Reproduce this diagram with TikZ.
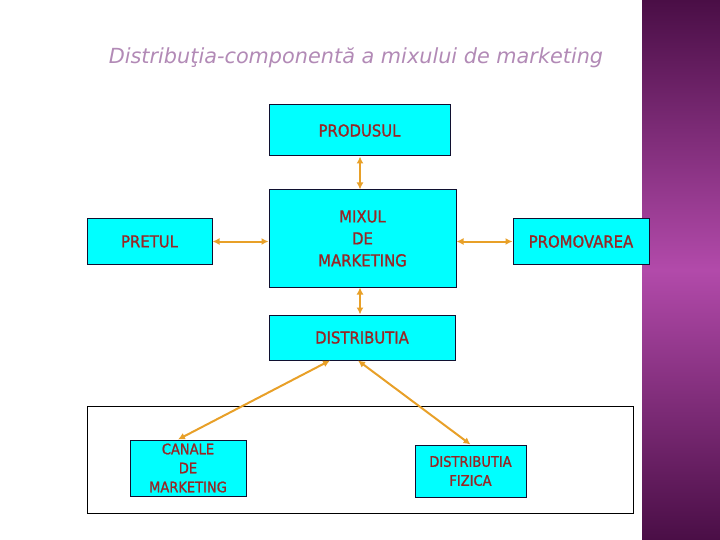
\documentclass[tikz,border=0pt]{standalone}
\usepackage{fontspec}
\setmainfont{DejaVu Sans}
\newfontfamily\boxfont[FakeStretch=0.9,FakeBold=1.2]{DejaVu Sans}
\usetikzlibrary{arrows.meta,positioning,calc}
\definecolor{MKCyan}{HTML}{00FFFF}
\definecolor{MKEdge}{HTML}{101030}
\definecolor{MKText}{HTML}{982626}
\definecolor{MKArrow}{HTML}{E8A028}
\definecolor{MKTitle}{HTML}{B28AB6}
\definecolor{MKBandDark}{HTML}{4A0E46}
\definecolor{MKBandLight}{HTML}{B24AAA}
\tikzset{
  link/.style={{Latex[length=7pt,width=7pt]}-{Latex[length=7pt,width=7pt]},MKArrow,line width=2pt},
  box/.style={draw=MKEdge,line width=1pt,fill=MKCyan,text=MKText,align=center,
              inner sep=0pt,font=\boxfont\fontsize{16.5}{22}\selectfont},
  smallbox/.style={box,font=\boxfont\fontsize{14.5}{19}\selectfont},
  frame/.style={draw=black,line width=1pt},
  title/.style={text=MKTitle,font=\fontsize{20.8}{24}\selectfont\itshape},
}

\begin{document}
\begin{tikzpicture}[x=1pt,y=-1pt]
    \useasboundingbox (0,0) rectangle (720,540);
    % side band
    \shade[top color=MKBandDark,bottom color=MKBandDark,middle color=MKBandLight]
      (642,0) rectangle (720,540);

    \node[title] (title) at (356,58) {Distribuţia-componentă a mixului de marketing};

    \node[box,minimum width=181pt,minimum height=51pt] (prod) at (359.5,130.5) {PRODUSUL};
    \node[box,minimum width=187pt,minimum height=97pt] (mix) at (362.5,238.5) {MIXUL\\DE\\MARKETING};
    \node[box,minimum width=125pt,minimum height=45pt] (pret) at (149.5,241.5) {PRETUL};
    \node[box,minimum width=136pt,minimum height=45pt] (promo) at (581,241.5) {PROMOVAREA};
    \node[box,minimum width=186pt,minimum height=45pt] (distr) at (362,337.5) {DISTRIBUTIA};

    \draw[frame] (87,406) rectangle (633,513);
    \node[smallbox,minimum width=116pt,minimum height=56pt] (canale) at (188,468) {CANALE\\DE\\MARKETING};
    \node[smallbox,minimum width=111pt,minimum height=52pt] (fizica) at (470.5,471) {DISTRIBUTIA\\FIZICA};

    \draw[link] ([xshift=0.5pt]prod.south) -- ([xshift=0.5pt]prod.south |- mix.north);
    \draw[link] (pret.east) -- (pret.east -| mix.west);
    \draw[link] (mix.east |- promo.west) -- (promo.west);
    \draw[link] ([xshift=-2.5pt]mix.south) -- ([xshift=-2.5pt]mix.south |- distr.north);
    \draw[link] ([xshift=-32pt]distr.south) -- ([xshift=-10pt]canale.north);
    \draw[link] ([xshift=-4pt]distr.south) -- (fizica.north);
  \end{tikzpicture}
\end{document}
